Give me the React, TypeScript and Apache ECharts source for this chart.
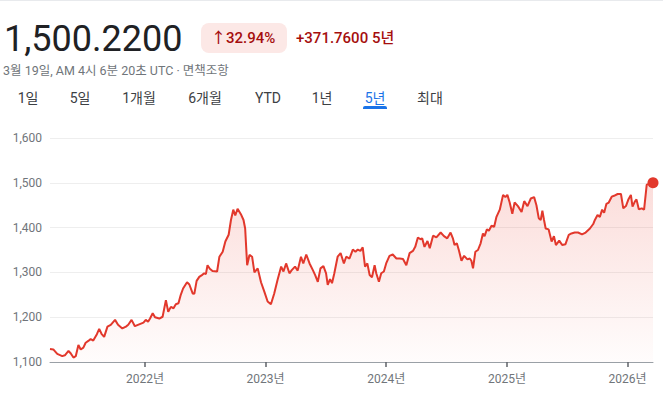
import React, { useEffect, useRef } from "react";
import * as echarts from "echarts";

const dates = [
  "2021-03-19","2021-03-29","2021-04-10","2021-04-25","2021-05-03","2021-05-14","2021-05-21","2021-05-29","2021-06-05","2021-06-13",
  "2021-06-20","2021-06-28","2021-07-05","2021-07-13","2021-07-20","2021-07-28","2021-08-08","2021-08-15","2021-08-22","2021-08-30",
  "2021-09-09","2021-09-19","2021-10-02","2021-10-11","2021-10-24","2021-11-04","2021-11-11","2021-11-21","2021-12-01","2021-12-14",
  "2021-12-27","2022-01-03","2022-01-10","2022-01-16","2022-01-24","2022-01-31","2022-02-13","2022-02-23","2022-03-05","2022-03-12",
  "2022-03-20","2022-03-28","2022-04-04","2022-04-12","2022-04-19","2022-04-26","2022-05-08","2022-05-15","2022-05-25","2022-05-30",
  "2022-06-06","2022-06-14","2022-06-22","2022-06-29","2022-07-04","2022-07-09","2022-07-16","2022-07-24","2022-08-07","2022-08-14",
  "2022-08-24","2022-09-01","2022-09-11","2022-09-18","2022-09-25","2022-10-01","2022-10-08","2022-10-18","2022-10-26","2022-10-31",
  "2022-11-06","2022-11-13","2022-11-21","2022-11-28","2022-12-08","2022-12-18","2022-12-28","2023-01-07","2023-01-17","2023-01-27",
  "2023-02-06","2023-02-17","2023-02-24","2023-03-04","2023-03-14","2023-03-21","2023-03-31","2023-04-08","2023-04-18","2023-04-25",
  "2023-05-04","2023-05-14","2023-05-24","2023-05-31","2023-06-08","2023-06-16","2023-06-25","2023-07-03","2023-07-08","2023-07-15",
  "2023-07-21","2023-07-28","2023-08-07","2023-08-16","2023-08-26","2023-09-02","2023-09-12","2023-09-22","2023-09-30","2023-10-07",
  "2023-10-15","2023-10-22","2023-10-29","2023-11-05","2023-11-12","2023-11-19","2023-11-27","2023-12-02","2023-12-10","2023-12-17",
  "2023-12-25","2024-01-01","2024-01-11","2024-01-21","2024-02-01","2024-02-11","2024-02-21","2024-03-02","2024-03-12","2024-03-22",
  "2024-03-29","2024-04-06","2024-04-14","2024-04-19","2024-04-26","2024-05-05","2024-05-12","2024-05-22","2024-06-01","2024-06-14",
  "2024-06-24","2024-07-04","2024-07-14","2024-07-21","2024-07-26","2024-08-02","2024-08-08","2024-08-16","2024-08-24","2024-09-03",
  "2024-09-10","2024-09-15","2024-09-20","2024-09-27","2024-10-05","2024-10-13","2024-10-20","2024-10-25","2024-11-01","2024-11-07",
  "2024-11-15","2024-11-23","2024-11-30","2024-12-10","2024-12-20","2024-12-27","2025-01-02","2025-01-09","2025-01-17","2025-01-24",
  "2025-02-03","2025-02-14","2025-02-22","2025-03-04","2025-03-14","2025-03-24","2025-03-31","2025-04-07","2025-04-13","2025-04-18",
  "2025-04-23","2025-04-28","2025-05-07","2025-05-16","2025-05-23","2025-05-29","2025-06-08","2025-06-17","2025-06-27","2025-07-07",
  "2025-07-15","2025-07-25","2025-08-04","2025-08-16","2025-08-27","2025-09-09","2025-09-19","2025-09-24","2025-10-02","2025-10-09",
  "2025-10-16","2025-10-22","2025-10-29","2025-11-05","2025-11-14","2025-11-21","2025-12-02","2025-12-12","2025-12-19","2025-12-27",
  "2026-01-03","2026-01-11","2026-01-16","2026-01-23","2026-01-28","2026-02-04","2026-02-13","2026-02-20","2026-02-28","2026-03-19",
];

const values = [
  1129,1128,1118,1113,1115,1125,1119,1110,1113,1138,
  1128,1132,1143,1147,1151,1148,1162,1174,1163,1156,
  1179,1183,1194,1183,1175,1179,1183,1194,1180,1184,
  1188,1194,1190,1197,1209,1200,1197,1201,1238,1212,
  1223,1220,1229,1231,1250,1264,1278,1273,1253,1252,
  1281,1290,1294,1298,1296,1316,1308,1303,1302,1335,
  1346,1369,1384,1417,1440,1427,1442,1430,1417,1398,
  1316,1339,1335,1300,1309,1278,1257,1235,1229,1253,
  1283,1313,1302,1320,1298,1305,1313,1304,1335,1320,
  1340,1320,1305,1294,1279,1309,1314,1298,1272,1285,
  1276,1298,1335,1343,1320,1335,1331,1351,1346,1351,
  1348,1356,1313,1320,1294,1289,1316,1298,1279,1298,
  1302,1320,1337,1340,1331,1331,1330,1316,1343,1348,
  1357,1378,1374,1376,1357,1370,1354,1382,1378,1389,
  1381,1376,1389,1376,1361,1365,1350,1326,1337,1329,
  1331,1326,1309,1346,1350,1365,1387,1381,1396,1393,
  1404,1402,1424,1440,1473,1468,1473,1456,1431,1456,
  1448,1435,1459,1448,1465,1468,1450,1421,1417,1438,
  1417,1398,1396,1369,1381,1361,1371,1361,1363,1384,
  1387,1389,1389,1385,1389,1398,1408,1417,1428,1424,
  1440,1433,1453,1456,1469,1471,1475,1475,1443,1448,
  1462,1473,1447,1458,1463,1441,1443,1440,1496,1500.22,
];

const yTicks = [1100, 1200, 1300, 1400, 1500, 1600];
const yearTicks = ["2022-01-01", "2023-01-01", "2024-01-01", "2025-01-01", "2026-01-01"];
const startDate = "2021-03-19";
const endDate = "2026-03-19";

const priceText = "1,500.2200";
const changePctText = "↑32.94%";
const changeAbsText = "+371.7600 5년";
const timestampText = "3월 19일, AM 4시 6분 20초 UTC · 면책조항";
const tabs = ["1일", "5일", "1개월", "6개월", "YTD", "1년", "5년", "최대"];
const activeTab = "5년";

function ts(s: string): number {
  const [y, m, d] = s.split("-").map(Number);
  return Date.UTC(y, m - 1, d);
}

const FONT = 'Roboto, "Noto Sans CJK KR", Arial, sans-serif';

export default function App() {
  const ref = useRef<HTMLDivElement>(null);

  useEffect(() => {
    if (!ref.current) return;
    const chart = echarts.init(ref.current, undefined, { renderer: "svg" });
    const seriesData = dates.map((d, i) => [ts(d), values[i]]);
    const last = seriesData[seriesData.length - 1];
    const tickVals = yearTicks.map(ts);
    const red = "#e2382c";

    const tabCenters = [28, 80, 139, 205, 268, 322, 375, 430];
    const tabGraphics: any[] = tabs.map((t, i) => ({
      type: "text",
      style: {
        text: t,
        x: tabCenters[i],
        y: 98,
        textAlign: "center",
        align: "center",
        textVerticalAlign: "middle",
        verticalAlign: "middle",
        fill: t === activeTab ? "#1a73e8" : "#3c4043",
        font: `400 14px ${FONT}`,
      },
    }));

    chart.setOption({
      animation: false,
      grid: { left: 50, right: 10, top: 138, bottom: 36 },
      xAxis: {
        type: "value",
        min: ts(startDate),
        max: ts(endDate),
        axisLine: { show: true, lineStyle: { color: "#9aa0a6", width: 1 } },
        axisTick: {
          show: true,
          customValues: tickVals,
          length: 5,
          lineStyle: { color: "#5f6368", width: 1.5 },
        },
        axisLabel: {
          customValues: tickVals,
          formatter: (v: number) => new Date(v).getUTCFullYear() + "년",
          color: "#70757a",
          fontSize: 12,
          fontFamily: FONT,
          margin: 11,
        },
        splitLine: { show: false },
      },
      yAxis: {
        type: "value",
        min: yTicks[0],
        max: yTicks[yTicks.length - 1],
        interval: yTicks[1] - yTicks[0],
        axisLine: { show: false },
        axisTick: { show: false },
        axisLabel: {
          formatter: (v: number) => v.toLocaleString("en-US"),
          color: "#70757a",
          fontSize: 12,
          fontFamily: FONT,
          margin: 8,
        },
        splitLine: { lineStyle: { color: "#eeeeee", width: 1 } },
      },
      series: [
        {
          type: "line",
          data: seriesData,
          showSymbol: false,
          lineStyle: { color: red, width: 2 },
          itemStyle: { color: red },
          areaStyle: {
            color: new echarts.graphic.LinearGradient(0, 0, 0, 1, [
              { offset: 0, color: "rgba(234,67,53,0.26)" },
              { offset: 1, color: "rgba(234,67,53,0.02)" },
            ]),
          },
          z: 2,
        },
        {
          type: "scatter",
          data: [last],
          symbolSize: 11,
          itemStyle: { color: red, opacity: 1 },
          z: 3,
        },
      ],
      graphic: [
        { type: "rect", shape: { x: 0, y: 0, width: 663, height: 1 }, style: { fill: "#e8eaed" } },
        {
          type: "text",
          style: {
            text: priceText, x: 4, y: 39, textVerticalAlign: "middle", verticalAlign: "middle",
            fill: "#202124", font: `400 36px ${FONT}`,
          },
        },
        { type: "rect", shape: { x: 201, y: 23, width: 86, height: 30, r: 8 }, style: { fill: "#fce8e6" } },
        {
          type: "text",
          style: {
            text: changePctText, x: 211, y: 38, textVerticalAlign: "middle", verticalAlign: "middle",
            fill: "#a50e0e", font: `500 15px ${FONT}`,
          },
        },
        {
          type: "text",
          style: {
            text: changeAbsText, x: 296, y: 38, textVerticalAlign: "middle", verticalAlign: "middle",
            fill: "#a50e0e", font: `500 15px ${FONT}`,
          },
        },
        {
          type: "text",
          style: {
            text: timestampText, x: 3, y: 70, textVerticalAlign: "middle", verticalAlign: "middle",
            fill: "#70757a", font: `400 12.5px ${FONT}`,
          },
        },
        ...tabGraphics,
        { type: "rect", shape: { x: 363, y: 106, width: 24, height: 3, r: [2, 2, 0, 0] }, style: { fill: "#1a73e8" } },
      ],
    });
    return () => chart.dispose();
  }, []);

  return (
    <div
      ref={ref}
      style={{ position: "fixed", left: 0, top: 0, width: 663, height: 398, background: "#fff" }}
    />
  );
}
